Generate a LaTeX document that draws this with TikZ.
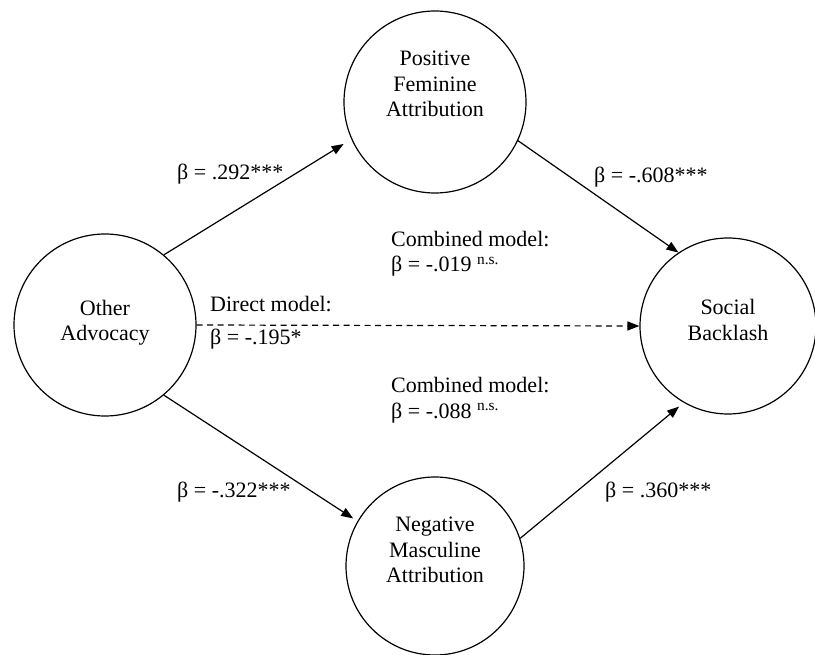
\documentclass[tikz,border=0pt]{standalone}
\usepackage{fontspec}
\setmainfont{Liberation Serif}
\usetikzlibrary{arrows.meta}
\begin{document}
\begin{tikzpicture}[x=1pt,y=-1pt,
  font=\fontsize{22}{25.5}\selectfont,
  var/.style={circle,draw,line width=1.2pt,inner sep=0pt},
  vtext/.style={align=center,inner sep=0pt},
  lbl/.style={anchor=base west,inner sep=0pt},
  arr/.style={line width=1.2pt,-{Triangle[length=12pt,width=9pt]}},
  darr/.style={arr,dash pattern=on 6pt off 4.5pt}]
\useasboundingbox (0,0) rectangle (815,655);
% variables
\node[var,minimum size=182pt] (oa) at (105,325) {};
\node[var,minimum size=182pt] (pf) at (435,102) {};
\node[var,minimum size=176pt] (sb) at (728,326) {};
\node[var,minimum size=178pt] (nm) at (435,566) {};
\node[vtext] (oat) at (105,322.5) {Other\\Advocacy};
\node[vtext] (pft) at (435,84) {Positive\\Feminine\\Attribution};
\node[vtext] (sbt) at (728,320) {Social\\Backlash};
\node[vtext] (nmt) at (435,550) {Negative\\Masculine\\Attribution};
% paths
\draw[arr,shorten >=9pt] (oa.50) -- (pf.204);
\draw[arr] (pf.-25) -- (sb.124);
\draw[arr,shorten >=5pt] (oa.-50) -- (nm.150);
\draw[arr,shorten >=6pt] (nm.18) -- (sb.-120);
\draw[darr] (oa.east) -- (sb.west);
% labels
\node[lbl] (l1) at (177,180) {β = .292***};
\node[lbl] (l2) at (594,183) {β = -.608***};
\node[lbl] (l3a) at (391,247) {Combined model:};
\node[lbl] (l3b) at (391,272) {β = -.019 \textsuperscript{n.s.}};
\node[lbl] (l4a) at (210,312) {Direct model:};
\node[lbl] (l4b) at (210,345) {β = -.195*};
\node[lbl] (l5a) at (391,393) {Combined model:};
\node[lbl] (l5b) at (391,418) {β = -.088 \textsuperscript{n.s.}};
\node[lbl] (l6) at (177,497) {β = -.322***};
\node[lbl] (l7) at (605,497) {β = .360***};
\end{tikzpicture}
\end{document}
